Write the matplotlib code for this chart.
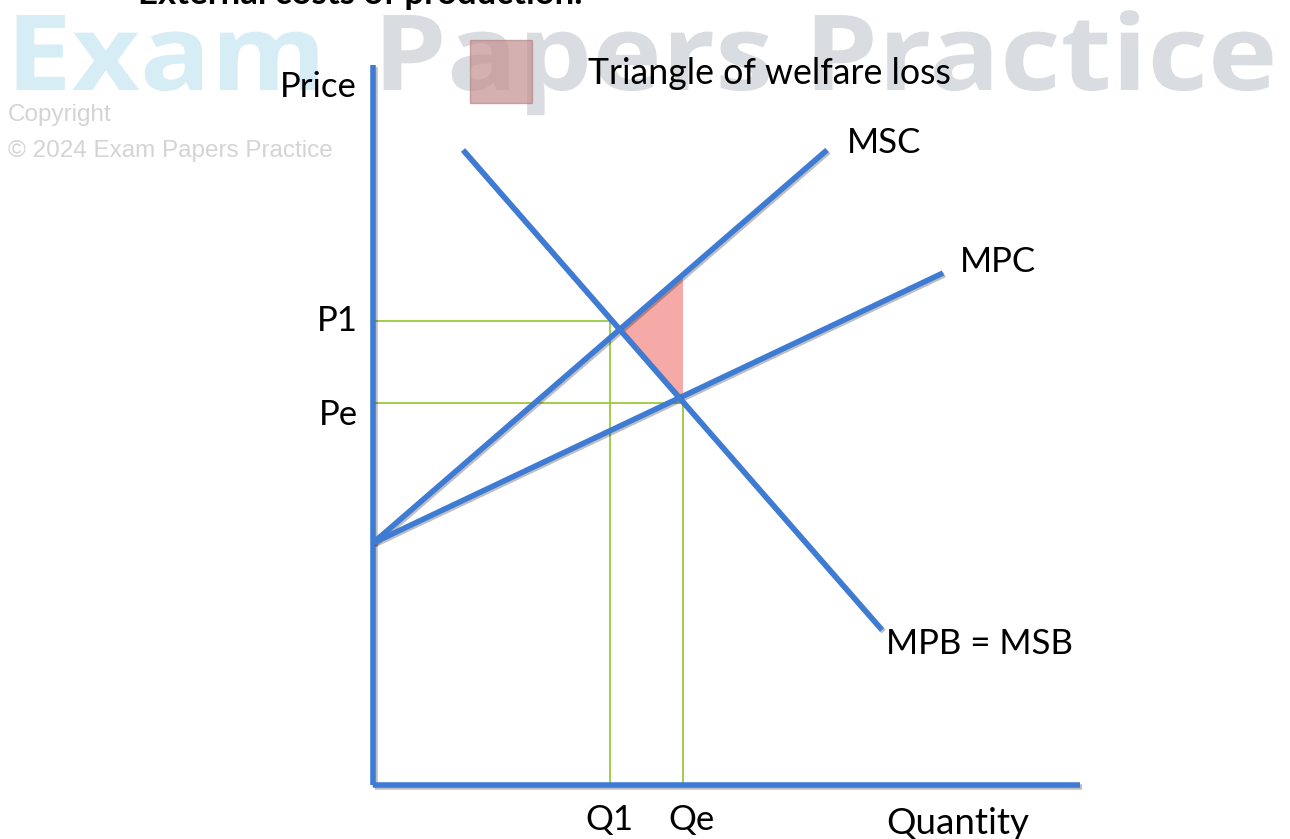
import numpy as np
import matplotlib.pyplot as plt
import matplotlib.patheffects as pe_fx
from matplotlib.patches import Polygon, Rectangle, PathPatch
from matplotlib.textpath import TextPath
from matplotlib.font_manager import FontProperties
from matplotlib.transforms import Affine2D

# curve end points (quantity, price)
msc_q = [0.0, 45.4]
msc_p = [24.2, 63.5]
mpc_q = [0.0, 57.0]
mpc_p = [24.2, 51.2]
msb_q = [9.0, 50.9]
msb_p = [63.5, 15.5]

# price / quantity levels
p1, pe = 46.4, 38.2
q1, qe = 23.7, 31.0

blue = '#3d7bd4'
green = '#9cc93c'
label_font = 'Lato'

fig = plt.figure(figsize=(12.9, 8.39), dpi=100)
ax = fig.add_axes([0, 0, 1, 1])
ax.set_xlim(-37.3, 91.7)
ax.set_ylim(-5.4, 78.5)
ax.axis('off')

# watermark (slightly stretched wide, drawn behind everything)
wm_prop = FontProperties(family='Open Sans', weight='bold')
for word, x0, col in [('Exam', 6, '#d6edf6'), ('Papers Practice', 373, '#d9dde1')]:
    tp = TextPath((0, 0), word, size=105, prop=wm_prop)
    patch = PathPatch(tp, facecolor=col, edgecolor='none', zorder=-2,
                      transform=Affine2D().scale(1.12, 1.0).translate(x0, 839 - 90))
    fig.add_artist(patch)
fig.text(8 / 1290, 1 - 115 / 839, 'Copyright', fontsize=17.5, family='Liberation Sans',
         color='#d4d4d4', va='center', zorder=-1)
fig.text(8 / 1290, 1 - 151 / 839, '© 2024 Exam Papers Practice', fontsize=17.5,
         family='Liberation Sans', color='#d4d4d4', va='center', zorder=-1)

# title (cut off at the top, as in the source)
fig.text(138 / 1290, 1 - 4 / 839, 'External costs of production.', fontsize=25,
         fontweight='bold', family=label_font, va='baseline')

shadow = [pe_fx.SimpleLineShadow(offset=(1.2, -1.2), alpha=0.25, shadow_color='k'),
          pe_fx.Normal()]


def line_at(qs, ps, q):
    return np.interp(q, qs, ps) if qs[0] < qs[1] else np.interp(q, qs[::-1], ps[::-1])


# welfare loss triangle
k_msc = (msc_p[1] - msc_p[0]) / (msc_q[1] - msc_q[0])
k_msb = (msb_p[1] - msb_p[0]) / (msb_q[1] - msb_q[0])
q_x = (msb_p[0] - k_msb * msb_q[0] - msc_p[0] + k_msc * msc_q[0]) / (k_msc - k_msb)
p_x = msc_p[0] + k_msc * (q_x - msc_q[0])
tri = Polygon([[q_x, p_x], [qe, line_at(msc_q, msc_p, qe)], [qe, line_at(msb_q, msb_p, qe)]],
              closed=True, facecolor='#f6aaa8', edgecolor='none', zorder=2)
ax.add_patch(tri)

# guide lines
ax.plot([0, q1], [p1, p1], color=green, lw=1.3, zorder=3)
ax.plot([q1, q1], [p1, 0], color=green, lw=1.3, zorder=3)
ax.plot([0, qe], [pe, pe], color=green, lw=1.3, zorder=3)
ax.plot([qe, qe], [pe, 0], color=green, lw=1.3, zorder=3)

# axes
ax.plot([0, 0], [0, 72.0], color=blue, lw=4, solid_capstyle='butt', zorder=4, path_effects=shadow)
ax.plot([0, 70.7], [0, 0], color=blue, lw=4, solid_capstyle='butt', zorder=4, path_effects=shadow)

# curves
for qs, ps in [(msc_q, msc_p), (mpc_q, mpc_p), (msb_q, msb_p)]:
    ax.plot(qs, ps, color=blue, lw=4, solid_capstyle='butt', zorder=5, path_effects=shadow)

# legend key
ax.add_patch(Rectangle((9.7, 68.2), 6.2, 6.3, facecolor='#c48f8f', edgecolor='#b58585',
                       alpha=0.7, lw=1, zorder=6))

fs = 25
ax.text(21.5, 71.2, 'Triangle of welfare loss', fontsize=25.7, family=label_font, va='center')
ax.text(-1.6, 69.8, 'Price', fontsize=fs, family=label_font, va='center', ha='right')
ax.text(msc_q[1] + 2.0, 64.2, 'MSC', fontsize=fs, family=label_font, va='center')
ax.text(mpc_q[1] + 1.7, 52.3, 'MPC', fontsize=fs, family=label_font, va='center')
ax.text(51.3, 14.1, 'MPB = MSB', fontsize=fs, family=label_font, va='center')
ax.text(-1.5, p1, 'P1', fontsize=fs, family=label_font, va='center', ha='right')
ax.text(-1.5, 37.0, 'Pe', fontsize=fs, family=label_font, va='center', ha='right')
ax.text(q1 - 0.1, -3.5, 'Q1', fontsize=fs, family=label_font, va='center', ha='center')
ax.text(qe + 0.9, -3.5, 'Qe', fontsize=fs, family=label_font, va='center', ha='center')
ax.text(51.3, -3.8, 'Quantity', fontsize=26.5, family=label_font, va='center')

fig.savefig('out.png', dpi=100)
